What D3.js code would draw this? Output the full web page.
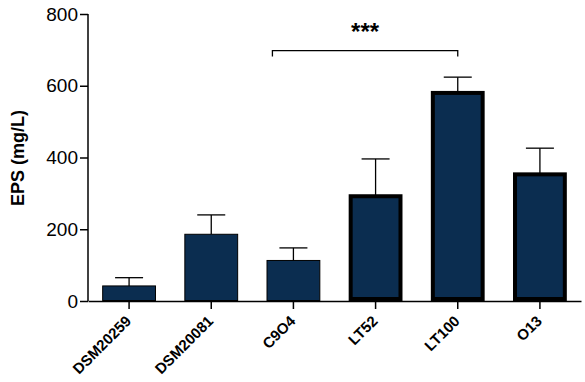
<!DOCTYPE html>
<html><head><meta charset="utf-8">
<script src="https://cdn.jsdelivr.net/npm/d3@7"></script>
<style>body{margin:0;background:#fff;} svg{display:block;font-family:Arial,"Liberation Sans",Helvetica,sans-serif;}</style>
</head><body>
<svg id="c" width="585" height="382"></svg>
<script>
const categories = ["DSM20259","DSM20081","C9O4","LT52","LT100","O13"];
const means = [42, 186, 113, 292, 580, 353];
const errors = [23, 54, 35, 104, 44, 73];
const highlighted = [false, false, false, true, true, true];
const yTicks = [0, 200, 400, 600, 800];
const sigLabel = "***";
const sigFrom = "C9O4", sigTo = "LT100", sigLevel = 698;

const svg = d3.select("#c");
const x = d3.scaleBand().domain(categories).range([88, 581]).padding(0);
const y = d3.scaleLinear().domain([0, 800]).range([301, 14]);
const color = "#0b2d50";
const step = x.step();
const W = step * 0.655;

// bars
categories.forEach((c, i) => {
  const sw = highlighted[i] ? 4 : 1;
  const cx = x(c) + x.bandwidth() / 2;
  const top = y(means[i]);
  const et = y(means[i] + errors[i]);
  svg.append("line").attr("x1", cx).attr("x2", cx).attr("y1", top).attr("y2", et)
    .attr("stroke", "#000").attr("stroke-width", 1.3);
  svg.append("line").attr("x1", cx - 14).attr("x2", cx + 14).attr("y1", et).attr("y2", et)
    .attr("stroke", "#000").attr("stroke-width", 1.3);
  svg.append("rect")
    .attr("x", cx - (W - sw) / 2).attr("width", W - sw)
    .attr("y", top).attr("height", y(0) - top - sw / 2)
    .attr("fill", color).attr("stroke", "#000").attr("stroke-width", sw);
});

// y axis
const yAxis = d3.axisLeft(y).tickValues(yTicks).tickSize(8).tickPadding(2);
const gy = svg.append("g").attr("transform", "translate(88,0)").call(yAxis);
gy.select(".domain").attr("stroke-width", 1.5).attr("d", "M0,301V14");
gy.selectAll(".tick line").attr("stroke-width", 1.5);
gy.selectAll("text").attr("font-size", 19).attr("fill", "#000").attr("font-family", "Arial, 'Liberation Sans', sans-serif");

// x axis
const xAxis = d3.axisBottom(x).tickSize(8).tickSizeOuter(0).tickFormat("");
const gx = svg.append("g").attr("transform", "translate(0,301)").call(xAxis);
gx.select(".domain").attr("stroke-width", 1.5);
gx.selectAll(".tick line").attr("stroke-width", 1.5);
gx.selectAll(".tick text").remove();

svg.append("g").selectAll("text").data(categories).join("text")
  .attr("transform", d => `translate(${x(d) + x.bandwidth() / 2 + 3},322) rotate(-45)`)
  .attr("font-size", 15).attr("font-weight", "bold").attr("fill", "#000")
  .attr("text-anchor", "end")
  .text(d => d);

// y label
svg.append("text").attr("transform", "translate(24,158) rotate(-90)")
  .attr("text-anchor", "middle").attr("font-size", 18).attr("font-weight", "bold")
  .text("EPS (mg/L)");

// significance bracket
const bx1 = x(sigFrom) + x.bandwidth() / 2 - 21;
const bx2 = x(sigTo) + x.bandwidth() / 2;
const by = y(sigLevel);
svg.append("path").attr("d", `M${bx1},${by + 6}V${by}H${bx2}V${by + 6}`)
  .attr("fill", "none").attr("stroke", "#000").attr("stroke-width", 1.3);
svg.append("text").attr("x", (bx1 + bx2) / 2).attr("y", by - 11)
  .attr("text-anchor", "middle").attr("font-size", 24).attr("font-weight", "bold")
  .text(sigLabel);
</script>
</body></html>
